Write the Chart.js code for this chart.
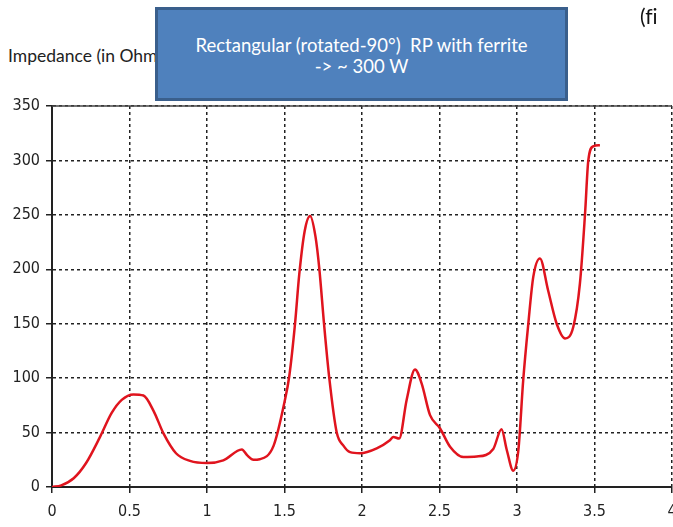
<!DOCTYPE html>
<html>
<head>
<meta charset="utf-8">
<script src="https://cdn.jsdelivr.net/npm/chart.js@4"></script>
<style>
  body { margin: 0; width: 673px; height: 527px; overflow: hidden; background: #fff; position: relative; }
  #wrap { position: absolute; left: 0; top: 0; width: 700px; height: 527px; }
  #ylabel { position: absolute; left: 8px; top: 45px; font: 17.5px Lato, sans-serif; color: #222; white-space: nowrap; }
  #fig { position: absolute; left: 640px; top: 3px; font: 21px Lato, sans-serif; color: #111; white-space: nowrap; font-variant-ligatures: none; }
  #box {
    position: absolute; left: 155px; top: 7px; width: 413px; height: 94px;
    box-sizing: border-box; background: #4f81bd; border: 3px solid #3a5f8c;
    color: #fff; text-align: center; font: 18.5px Lato, sans-serif;
    line-height: 21px; padding-top: 25px; font-variant-ligatures: none;
  }
</style>
</head>
<body>
<div id="ylabel">Impedance (in Ohm)</div>
<div id="wrap"><canvas id="lineChart"></canvas></div>
<div id="box">Rectangular (rotated-90°)&nbsp; RP with ferrite<br>-&gt; ~ 300 W</div>
<div id="fig">(fi</div>
<script>
var freq = [0, 0.06, 0.14, 0.22, 0.31, 0.385, 0.45, 0.525, 0.59, 0.655, 0.72, 0.80, 0.89, 1.0, 1.105, 1.225, 1.26, 1.30, 1.34, 1.43,
  1.5, 1.531, 1.568, 1.595, 1.63, 1.665, 1.70, 1.725, 1.755, 1.789, 1.837, 1.88, 1.923, 1.987, 2.095, 2.18, 2.202, 2.24, 2.288, 2.342,
  2.385, 2.439, 2.503, 2.568, 2.654, 2.74, 2.847, 2.90, 2.934, 2.976, 3.009, 3.04, 3.073, 3.105, 3.148, 3.2, 3.256, 3.31, 3.363, 3.406,
  3.439, 3.46, 3.492, 3.535];

var impedance = [0, 1.5, 8, 22, 46, 68, 80, 85, 84, 70, 49, 31, 24, 22, 24.5, 34.5, 29, 25, 25.5, 38,
  78, 102, 150, 195, 235, 249, 230, 200, 150, 100, 50, 38, 32, 31, 35.5, 43, 46, 44.5, 80, 108,
  95, 66, 54, 37, 27.6, 28, 35, 53, 34, 15, 34, 98, 150, 193, 210, 181, 150, 136.5, 147, 187,
  251, 300, 313, 314];

var xTicks = { min: 0, max: 4, step: 0.5 };
var yTicks = { min: 0, max: 350, step: 50 };

const lineChart = () => {
  var ctx = document.getElementById('lineChart').getContext('2d');

  var points = freq.map((f, i) => ({ x: f, y: impedance[i] }));

  // solid frame line along the top of the plot
  var topLine = {
    id: 'topLine',
    beforeDatasetsDraw(chart) {
      var a = chart.chartArea, c = chart.ctx;
      c.save();
      c.strokeStyle = '#444';
      c.lineWidth = 1.5;
      c.beginPath();
      c.moveTo(a.left, a.top);
      c.lineTo(a.right, a.top);
      c.stroke();
      c.restore();
    }
  };

  var tickFont = { family: "'DejaVu Sans Condensed', 'DejaVu Sans', sans-serif", size: 16 };

  new Chart(ctx, {
    type: "line",
    data: {
      datasets: [{
        label: "Impedance",
        data: points,
        borderColor: "#e0141e",
        borderWidth: 2.5,
        pointRadius: 0,
        cubicInterpolationMode: "monotone",
        fill: false
      }]
    },
    options: {
      responsive: true,
      maintainAspectRatio: false,
      animation: false,
      layout: { padding: { top: 106, right: 28, left: 0, bottom: 0 } },
      plugins: { legend: { display: false }, tooltip: { enabled: false } },
      scales: {
        x: {
          type: "linear",
          min: xTicks.min,
          max: xTicks.max,
          afterFit: s => { s.height = 40; },
          ticks: { stepSize: xTicks.step, color: "#222", font: tickFont, padding: 9, maxRotation: 0,
                   callback: v => String(v) },
          grid: { color: "#222", lineWidth: 1.5, tickLength: 6, tickColor: "#222", tickWidth: 1.5 },
          border: { color: "#222", width: 2, dash: [3, 3] }
        },
        y: {
          min: yTicks.min,
          max: yTicks.max,
          afterFit: s => { s.width = 52; },
          ticks: { stepSize: yTicks.step, color: "#222", font: tickFont, padding: 6,
                   callback: v => String(v) },
          grid: { color: "#222", lineWidth: 1.5, tickLength: 6, tickColor: "#222", tickWidth: 1.5 },
          border: { color: "#222", width: 2, dash: [3, 3] }
        }
      }
    },
    plugins: [topLine]
  });
}

lineChart();
</script>
</body>
</html>
